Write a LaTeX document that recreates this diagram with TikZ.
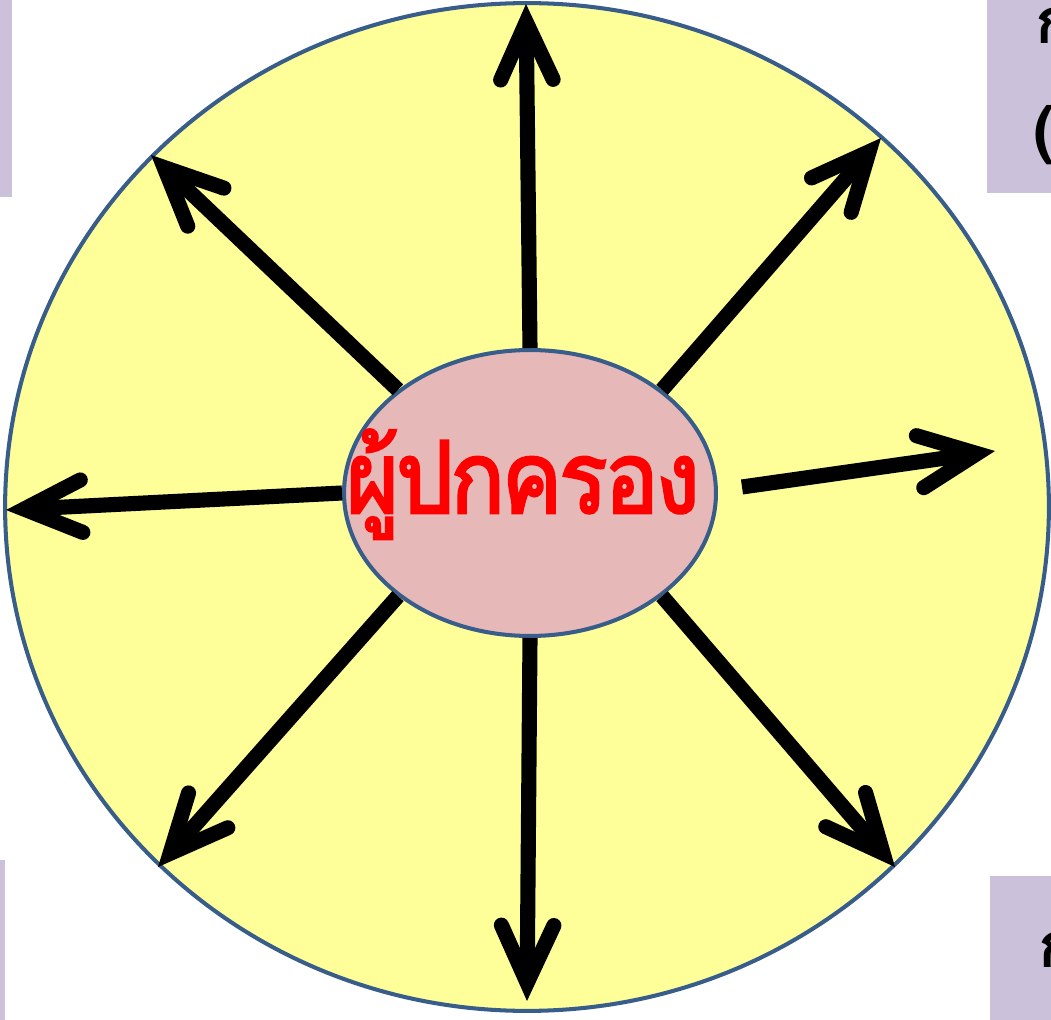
\documentclass[tikz,border=0pt]{standalone}
\usepackage{fontspec}
\usetikzlibrary{shapes.geometric, arrows.meta}
\newfontfamily\thaifont[Script=Thai]{Loma}
\newfontfamily\thaititle[Script=Thai, LetterSpace=-3, FakeStretch=0.9, FakeBold=2.5]{Loma}
\definecolor{fieldyellow}{RGB}{255,255,153}
\definecolor{rimblue}{RGB}{56,93,138}
\definecolor{corepink}{RGB}{230,185,184}
\definecolor{tablilac}{RGB}{204,193,218}

\begin{document}
\begin{tikzpicture}[x=0.02cm, y=-0.02cm,
    ray/.style={line width=8.6pt,
      -{Straight Barb[length=1.15cm, width=1.05cm, line cap=round, line join=miter]}},
    rim/.style={ellipse, draw=rimblue, line width=2.3pt, inner sep=0pt},
    tabtext/.style={font=\thaifont\bfseries\fontsize{36}{40}\selectfont, anchor=base west, inner sep=0pt}]
  \useasboundingbox (0,0) rectangle (1051,1020);
  \clip (0,0) rectangle (1051,1020);

  %% side boxes, cut off by the page edge
  \fill[tablilac] (-20,-20) rectangle (12,197);
  \fill[tablilac] (987,-20) rectangle (1100,193);
  \fill[tablilac] (990,876) rectangle (1100,1040);
  \fill[tablilac] (-20,860) rectangle (5,1040);
  \node[tabtext] (tabka) at (1035,44) {ก};
  \node[tabtext] (tabparen) at (1033,152) {(};
  \node[tabtext] (tabkb) at (1038,967) {ก};

  %% big circle and the centre
  \node[rim, fill=fieldyellow, minimum width=20.88cm, minimum height=20.16cm] (field) at (527,507) {};
  \node[rim, fill=corepink, minimum width=7.44cm, minimum height=5.72cm] (parent) at (530,493) {};
  \node[text=red, font=\thaititle\fontsize{57}{60}\selectfont, anchor=base, inner sep=0pt] (title) at (523,513) {ผู้ปกครอง};

  %% arrow ends
  \coordinate (tipN)  at (526,4);
  \coordinate (tipNE) at (881,138);
  \coordinate (tipE)  at (995,451);
  \coordinate (tipSE) at (895,867);
  \coordinate (tipS)  at (527,1001);
  \coordinate (tipSW) at (158,867);
  \coordinate (tipW)  at (6,510);
  \coordinate (tipNW) at (151,155);
  \coordinate (startE) at (742,487);

  \draw[ray] (parent.90)  -- (tipN);
  \draw[ray] (parent.38)  -- (tipNE);
  \draw[ray] (startE)     -- (tipE);
  \draw[ray] (parent.-38) -- (tipSE);
  \draw[ray] (parent.270) -- (tipS);
  \draw[ray] (parent.218) -- (tipSW);
  \draw[ray] (parent.180) -- (tipW);
  \draw[ray] (parent.142) -- (tipNW);
\end{tikzpicture}
\end{document}
